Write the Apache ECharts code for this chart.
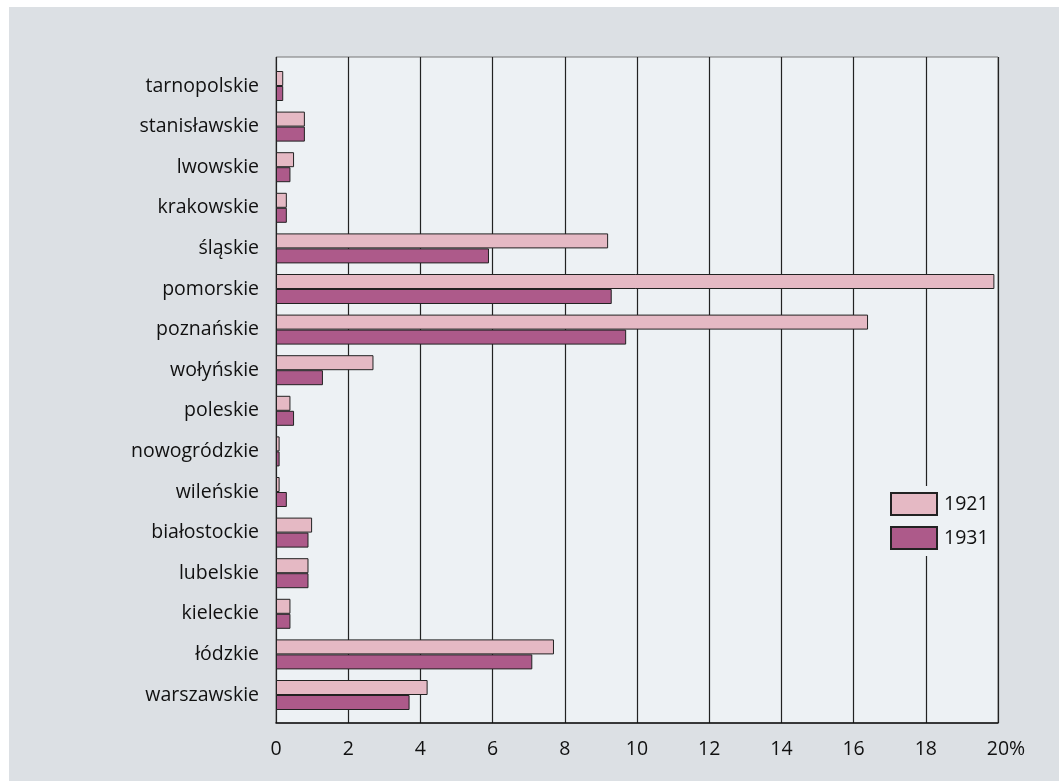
<!DOCTYPE html>
<html><head><meta charset="utf-8">
<script src="https://cdn.jsdelivr.net/npm/echarts@6/dist/echarts.min.js"></script>
<style>html,body{margin:0;padding:0;background:#fff}#c{width:1059px;height:781px}</style>
</head><body><div id="c"></div>
<script>
const categories = ["tarnopolskie","stanisławskie","lwowskie","krakowskie","śląskie","pomorskie","poznańskie","wołyńskie","poleskie","nowogródzkie","wileńskie","białostockie","lubelskie","kieleckie","łódzkie","warszawskie"];
const values1921 = [0.2,0.8,0.5,0.3,9.2,19.9,16.4,2.7,0.4,0.1,0.1,1.0,0.9,0.4,7.7,4.2];
const values1931 = [0.2,0.8,0.4,0.3,5.9,9.3,9.7,1.3,0.5,0.1,0.3,0.9,0.9,0.4,7.1,3.7];
const seriesNames = ["1921","1931"];
const xTicks = ["0","2","4","6","8","10","12","14","16","18","20%"];

const font = "'Open Sans', 'Noto Sans', sans-serif";
const chart = echarts.init(document.getElementById('c'), null, {renderer:'canvas'});
chart.setOption({
  backgroundColor: '#ffffff',
  animation: false,
  graphic: [{type:'rect', z:-10, shape:{x:9,y:7,width:1050,height:774}, style:{fill:'#dce0e4'}}],
  grid: [
    {left:276, right:61, top:57, bottom:58, show:true, backgroundColor:'#edf1f4', borderColor:'#777', borderWidth:1},
    {left:276, right:61, top:65.7, bottom:65.7, show:false}
  ],
  legend: {
    data: seriesNames, orient:'vertical', left:884, top:486,
    itemWidth:46, itemHeight:22, itemGap:10, padding:[6,6,6,6],
    backgroundColor:'#edf1f4',
    textStyle:{fontFamily:font, fontSize:19.5, color:'#111', padding:[0,0,0,2]},
    icon:'rect'
  },
  xAxis: [{
    gridIndex:0, type:'value', min:0, max:20, interval:2,
    axisLine:{show:true, lineStyle:{color:'#111', width:1.5}},
    axisTick:{show:false},
    splitLine:{show:true, lineStyle:{color:'#222', width:1.2}},
    axisLabel:{fontFamily:font, fontSize:19.5, color:'#111', margin:16,
      formatter:(v)=>{const i=Math.round(v/2); return i===xTicks.length-1 ? '{last|'+xTicks[i]+'}' : xTicks[i];},
      rich:{last:{fontFamily:font, fontSize:19.5, color:'#111', padding:[0,0,0,16]}}}
  },{
    gridIndex:1, type:'value', min:0, max:20, interval:2, show:false
  }],
  yAxis: [{
    gridIndex:0, type:'value', min:0, max:1, show:false
  },{
    gridIndex:1, type:'category', data:categories, inverse:true,
    axisLine:{show:false}, axisTick:{show:false},
    axisLabel:{fontFamily:font, fontSize:19.5, color:'#111', margin:17, padding:[3,0,0,0]}
  }],
  series: [
    {name:seriesNames[0], type:'bar', xAxisIndex:1, yAxisIndex:1, data:values1921, barWidth:15, barGap:'0%',
     itemStyle:{color:'#e5b9c4', borderColor:'#222', borderWidth:1}},
    {name:seriesNames[1], type:'bar', xAxisIndex:1, yAxisIndex:1, data:values1931, barWidth:15, barGap:'0%',
     itemStyle:{color:'#ad5a8a', borderColor:'#222', borderWidth:1}}
  ]
});
</script></body></html>
